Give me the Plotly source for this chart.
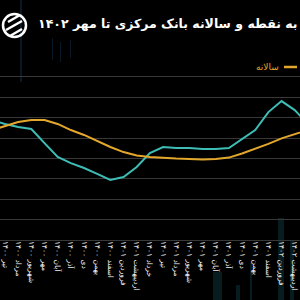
import plotly.graph_objects as go

# ---- data ----
months = ["خرداد ۱۴۰۰", "تیر ۱۴۰۰", "مرداد ۱۴۰۰", "شهریور ۱۴۰۰", "مهر ۱۴۰۰", "آبان ۱۴۰۰",
          "آذر ۱۴۰۰", "دی ۱۴۰۰", "بهمن ۱۴۰۰", "اسفند ۱۴۰۰", "فروردین ۱۴۰۱", "اردیبهشت ۱۴۰۱",
          "خرداد ۱۴۰۱", "تیر ۱۴۰۱", "مرداد ۱۴۰۱", "شهریور ۱۴۰۱", "مهر ۱۴۰۱", "آبان ۱۴۰۱",
          "آذر ۱۴۰۱", "دی ۱۴۰۱", "بهمن ۱۴۰۱", "اسفند ۱۴۰۱", "فروردین ۱۴۰۲", "اردیبهشت ۱۴۰۲",
          "خرداد ۱۴۰۲"]
point_to_point = [58.8, 56.9, 55.4, 54.4, 47.5, 40.7, 37.7, 35.3, 32.4, 29.4, 30.9, 35.8, 42.6,
                  45.6, 45.1, 45.1, 44.6, 44.6, 45.1, 49.5, 53.9, 62.7, 68.1, 63.7, 56.9]
annual = [53.9, 55.9, 57.8, 58.8, 58.8, 56.9, 53.9, 51.5, 48.5, 45.6, 43.1, 41.4, 40.7,
          40.2, 39.9, 39.7, 39.5, 39.7, 40.4, 42.4, 44.6, 47.1, 49.8, 52.0, 53.9]
title_text = "به نقطه و سالانه بانک مرکزی تا مهر ۱۴۰۲"
legend_annual = "سالانه"

TEAL = "#3dbdb5"
GOLD = "#e3a72b"
W, H = 300, 300


def px(x):
    return x / W


def py(y):
    return 1 - y / H


fig = go.Figure()
fig.add_trace(go.Scatter(x=months, y=point_to_point, mode="lines", name="نقطه به نقطه",
                         line=dict(color=TEAL, width=2)))
fig.add_trace(go.Scatter(x=months, y=annual, mode="lines", name=legend_annual,
                         line=dict(color=GOLD, width=2)))

shapes = []
# faint background decorations
for (x0, y0, x1, y1) in [(20, 0, 22, 82), (52, 38, 53, 60), (60, 42, 61, 62), (70, 40, 71, 58)]:
    shapes.append(dict(type="rect", xref="paper", yref="paper", x0=px(x0), x1=px(x1),
                       y0=py(y1), y1=py(y0), fillcolor="#0a1826", line=dict(width=0), layer="below"))
for (x0, y0, x1, y1) in [(213, 272, 222, 300), (236, 285, 240, 300), (250, 263, 252, 300),
                         (278, 218, 284, 300), (290, 240, 294, 300)]:
    shapes.append(dict(type="rect", xref="paper", yref="paper", x0=px(x0), x1=px(x1),
                       y0=py(y1), y1=py(y0), fillcolor="#071c1e", line=dict(width=0), layer="below"))
# logo
shapes.append(dict(type="circle", xref="paper", yref="paper", x0=px(3), x1=px(26),
                   y0=py(37), y1=py(14), line=dict(color="white", width=2.5)))
for (x0, y0, x1, y1) in [(8, 22, 20, 15), (6, 30, 22, 21), (10, 36, 22, 29)]:
    shapes.append(dict(type="line", xref="paper", yref="paper", x0=px(x0), x1=px(x1),
                       y0=py(y0), y1=py(y1), line=dict(color="white", width=2.5)))
# legend sample
shapes.append(dict(type="line", xref="paper", yref="paper", x0=px(284), x1=px(297),
                   y0=py(67), y1=py(67), line=dict(color=GOLD, width=2.5)))

annotations = [
    dict(text="<b>" + title_text + "</b>", xref="paper", yref="paper", x=px(299), y=py(24),
         xanchor="right", yanchor="middle", showarrow=False,
         font=dict(size=12.5, color="white", family="DejaVu Sans")),
    dict(text=legend_annual, xref="paper", yref="paper", x=px(281), y=py(67),
         xanchor="right", yanchor="middle", showarrow=False,
         font=dict(size=9, color=GOLD, family="DejaVu Sans")),
]

fig.update_layout(
    width=W, height=H,
    margin=dict(l=0, r=0, t=0, b=0),
    paper_bgcolor="#000000", plot_bgcolor="#000000",
    showlegend=False,
    shapes=shapes, annotations=annotations,
    xaxis=dict(domain=[0, 1], type="category", range=[0.62, 23.40],
               tickmode="array", tickvals=months, ticktext=months,
               tickangle=90, ticks="", showgrid=False, zeroline=False, showline=False,
               tickfont=dict(size=7.5, color="#f0f0f0", family="DejaVu Sans"),
               automargin=False),
    yaxis=dict(domain=[py(240), py(66)], range=[0, 85.3], dtick=10,
               showticklabels=False, showgrid=True, gridcolor="#383838", gridwidth=1,
               zeroline=True, zerolinecolor="#383838", zerolinewidth=1, automargin=False),
)

fig.write_html("out.html")
